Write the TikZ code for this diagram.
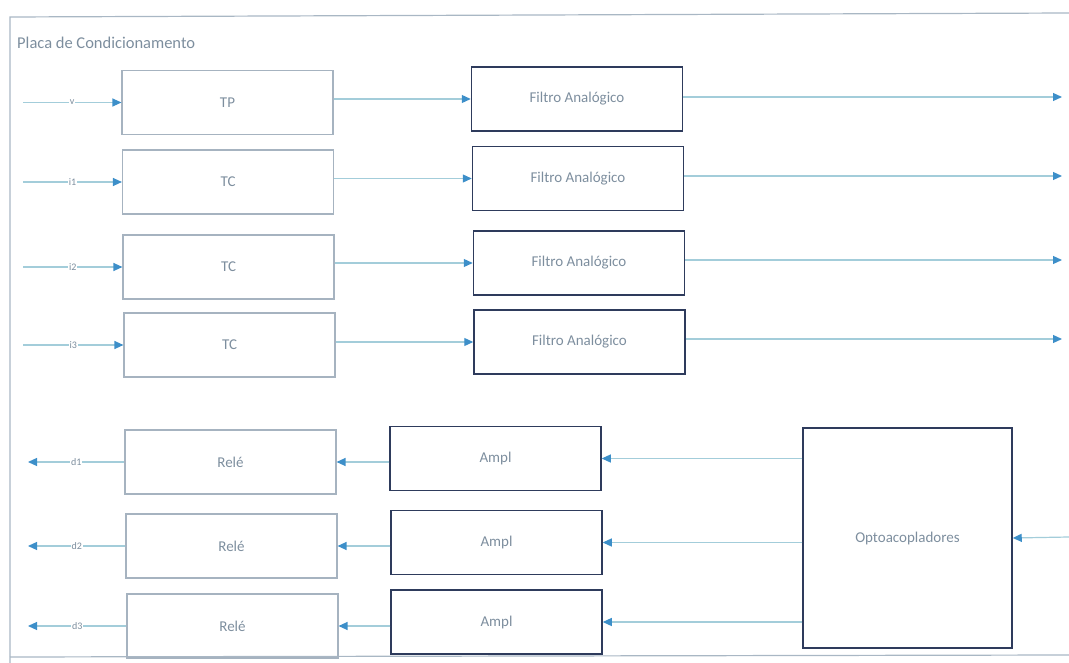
\documentclass[tikz,border=0pt]{standalone}
\usepackage{fontspec}
\setmainfont{Carlito}
\usetikzlibrary{arrows.meta}
\definecolor{wirec}{HTML}{A3CDDA}
\definecolor{tipc}{HTML}{3D8FC9}
\definecolor{boxlight}{HTML}{A6B3C0}
\definecolor{boxdark}{HTML}{2E3B5C}
\definecolor{txt}{HTML}{7D8E9E}
\definecolor{framec}{HTML}{A9B7C4}
\begin{document}
\begin{tikzpicture}[x=1pt,y=-1pt,
  blk/.style={draw=boxlight, line width=1.1pt, minimum width=211pt, minimum height=64pt,
    inner sep=0pt, font=\fontsize{15}{17}\selectfont, text=txt},
  dblk/.style={blk, draw=boxdark, line width=1.5pt},
  wire/.style={draw=wirec, line width=1.2pt},
  arr/.style={wire, -{Triangle[length=9pt,width=8pt,color=tipc]}},
  sig/.style={font=\fontsize{10}{11}\selectfont, text=txt, fill=white, inner sep=1pt}]
\useasboundingbox (0,0) rectangle (1069,663);

% enclosing board outline
\draw[framec, line width=1.2pt] (1069,13) -- (10,17) -- (10,663);
\draw[framec, line width=1.2pt] (10,657) -- (1069,655);
\node[anchor=west, text=txt, font=\fontsize{16.5}{18}\selectfont, inner sep=0pt] (title) at (17,43) {Placa de Condicionamento};

% measurement chain: transducers and analog filters
\node[blk] (tp)  at (227.5,102.5) {TP};
\node[blk] (tc1) at (228,182)   {TC};
\node[blk] (tc2) at (228.5,267) {TC};
\node[blk] (tc3) at (229.5,345) {TC};

\node[dblk] (f1) at (577,99)    {Filtro Analógico};
\node[dblk] (f2) at (578,178.5) {Filtro Analógico};
\node[dblk] (f3) at (579,263)   {Filtro Analógico};
\node[dblk] (f4) at (579.5,342) {Filtro Analógico};

\coordinate (in1) at (23,102.5);
\coordinate (in2) at (23,182);
\coordinate (in3) at (23,267);
\coordinate (in4) at (23,345);
\draw[arr] (in1) -- node[sig]{v}  (tp.west);
\draw[arr] (in2) -- node[sig]{i1} (tc1.west);
\draw[arr] (in3) -- node[sig]{i2} (tc2.west);
\draw[arr] (in4) -- node[sig]{i3} (tc3.west);

\draw[arr] (tp.east  |- f1) -- (f1.west);
\draw[arr] (tc1.east |- f2) -- (f2.west);
\draw[arr] (tc2.east |- f3) -- (f3.west);
\draw[arr] (tc3.east |- f4) -- (f4.west);

\coordinate (out1) at (1062,97);
\coordinate (out2) at (1062,176);
\coordinate (out3) at (1062,260);
\coordinate (out4) at (1062,339);
\draw[arr] (f1.east |- out1) -- (out1);
\draw[arr] (f2.east |- out2) -- (out2);
\draw[arr] (f3.east |- out3) -- (out3);
\draw[arr] (f4.east |- out4) -- (out4);

% command chain: optocouplers, amplifiers and relays
\node[blk, minimum width=209pt, minimum height=220pt, draw=boxdark, line width=1.5pt] (opto) at (907.5,538) {Optoacopladores};

\node[dblk] (a1) at (495.5,458.5) {Ampl};
\node[dblk] (a2) at (496.5,542.5) {Ampl};
\node[dblk] (a3) at (496.5,622)   {Ampl};

\node[blk] (r1) at (230.5,462) {Relé};
\node[blk] (r2) at (231.5,546) {Relé};
\node[blk] (r3) at (232.5,626) {Relé};

\coordinate (optin) at (1069,537);
\draw[arr] (optin) -- (opto.east);

\draw[arr] (opto.west |- a1) -- (a1.east);
\draw[arr] (opto.west |- a2) -- (a2.east);
\draw[arr] (opto.west |- a3) -- (a3.east);

\draw[arr] (a1.west |- r1) -- (r1.east);
\draw[arr] (a2.west |- r2) -- (r2.east);
\draw[arr] (a3.west |- r3) -- (r3.east);

\coordinate (d1) at (28,462);
\coordinate (d2) at (28,546);
\coordinate (d3) at (28,626);
\draw[arr] (r1.west) -- node[sig]{d1} (d1);
\draw[arr] (r2.west) -- node[sig]{d2} (d2);
\draw[arr] (r3.west) -- node[sig]{d3} (d3);
\end{tikzpicture}
\end{document}
